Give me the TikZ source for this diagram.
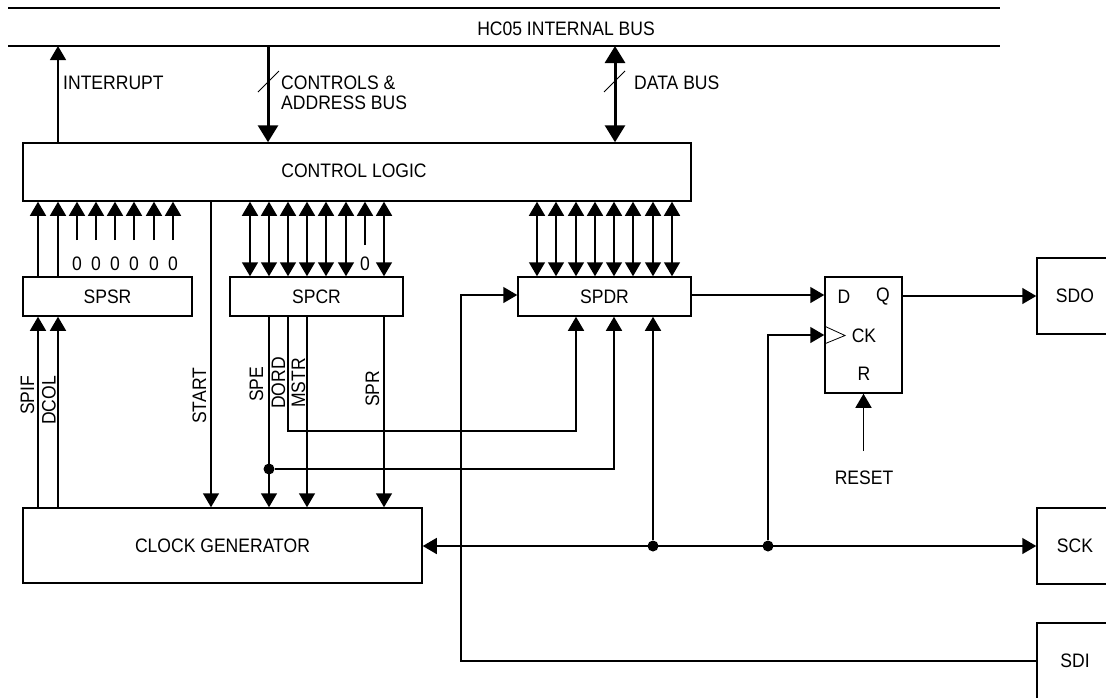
\documentclass[tikz,border=0pt]{standalone}
\usepackage{fontspec}
\setmainfont[FakeStretch=0.9]{Liberation Sans}
\usetikzlibrary{arrows.meta,calc}
\tikzset{
  lbl/.style={inner sep=0pt,font=\fontsize{19.5}{20}\selectfont},
  box/.style={lbl,draw,line width=1.5pt},
  vlbl/.style={lbl,rotate=90,anchor=south west},
  sig/.style={line width=1.5pt,-{Triangle[length=14pt,width=16pt]}},
  sigb/.style={line width=1.5pt,{Triangle[length=14pt,width=16pt]}-{Triangle[length=14pt,width=16pt]}},
  wire/.style={line width=1.5pt},
  fat/.style={line width=3pt},
  dot/.style={circle,fill=black,inner sep=0pt,minimum size=11pt},
}
\begin{document}
\begin{tikzpicture}[x=1pt,y=-1pt]
\clip (0,0) rectangle (1106,697);
% bus
\coordinate (busa) at (8,8);
\coordinate (busb) at (8,46);
\draw[wire] (busa)--++(992,0);
\draw[wire] (busb)--++(992,0);
\node[lbl] (busname) at (566,29) {HC05 INTERNAL BUS};
% blocks
\node[box,minimum width=668pt,minimum height=58pt] (clog) at (357,172) {};
\node[lbl] (clogname) at (354,171) {CONTROL LOGIC};
\node[box,minimum width=169pt,minimum height=39pt] (spsr) at (107.5,296.5) {SPSR};
\node[box,minimum width=173pt,minimum height=39pt] (spcr) at (316.5,296.5) {SPCR};
\node[box,minimum width=173pt,minimum height=39pt] (spdr) at (604.5,296.5) {SPDR};
\node[box,minimum width=399pt,minimum height=75pt] (cgen) at (222.5,545.5) {CLOCK GENERATOR};
\node[box,minimum width=77pt,minimum height=116pt] (ff) at (863.5,335) {};
\node[lbl] (ffd) at (844,297) {D};
\node[lbl] (ffq) at (883,297) {Q};
\node[lbl] (ffck) at (864,336) {CK};
\node[lbl] (ffr) at (864,374) {R};
\draw[line width=.8pt] (ff.west |- 0,326)--(845,335.5)--(ff.west |- 0,344);
\node[box,minimum width=76pt,minimum height=76pt] (sdo) at (1075,296) {SDO};
\node[box,minimum width=76pt,minimum height=76pt] (sck) at (1075,546) {SCK};
\node[box,minimum width=76pt,minimum height=76pt] (sdi) at (1075,661) {SDI};
% internal bus links
\draw[sig] (clog.north -| 58,0)--(busb -| 58,0);
\draw[fat,-{Triangle[length=17pt,width=20pt]}] (busb -| 268,0)--(clog.north -| 268,0);
\draw[fat,{Triangle[length=17pt,width=20pt]}-{Triangle[length=17pt,width=20pt]}] (busb -| 615,0)--(clog.north -| 615,0);
\draw[line width=.8pt] (258,92)--(279,71);
\draw[line width=.8pt] (604,92)--(625,71);
\node[lbl,anchor=west] (intr) at (63,83) {INTERRUPT};
\node[lbl,anchor=west,align=left] (ctrl) at (281,93) {CONTROLS \&\\ADDRESS BUS};
\node[lbl,anchor=west] (dbus) at (634,83) {DATA BUS};
% register bits
\foreach \x in {38,58}
  \draw[sig] (spsr.north -| \x,0)--(clog.south -| \x,0);
\foreach \x in {77,96,115,134,154,173}{
  \node[lbl] (z\x) at (\x,264) {0};
  \draw[sig] (\x,240)--(clog.south -| \x,0);
}
\foreach \x in {250,269,288,307,326,346,384}
  \draw[sigb] (spcr.north -| \x,0)--(clog.south -| \x,0);
\node[lbl] (z365) at (365,264) {0};
\draw[sig] (365,245)--(clog.south -| 365,0);
\foreach \x in {537,556,576,595,614,633,653,672}
  \draw[sigb] (spdr.north -| \x,0)--(clog.south -| \x,0);
% clock generator
\foreach \x in {38,58}
  \draw[sig] (cgen.north -| \x,0)--(spsr.south -| \x,0);
\draw[sig] (clog.south -| 211,0)--(cgen.north -| 211,0);
\foreach \x in {269,307,384}
  \draw[sig] (spcr.south -| \x,0)--(cgen.north -| \x,0);
\draw[sig] (spcr.south -| 288,0)--(288,431)-|(spdr.south -| 576,0);
\node[dot] (spedot) at (269,469) {};
\draw[sig] (spedot)-|(spdr.south -| 614,0);
\node[vlbl] (spif) at (34.5,415) {SPIF};
\node[vlbl] (dcol) at (56,425) {DCOL};
\node[vlbl] (start) at (206.5,424) {START};
\node[vlbl] (spe) at (263.5,402) {SPE};
\node[vlbl] (dord) at (285.5,409) {DORD};
\node[vlbl] (mstr) at (305.5,408) {MSTR};
\node[vlbl] (spr) at (379.5,407) {SPR};
% outputs
\draw[sig] (spdr.east |- 0,295)--(ff.west |- 0,295);
\draw[sig] (ff.east |- 0,296)--(sdo.west |- 0,296);
\node[dot] (ckdot) at (768,546) {};
\node[dot] (spdrdot) at (653,546) {};
\draw[sigb] (cgen.east |- sck)--(sck.west);
\draw[sig] (spdrdot)--(spdr.south -| spdrdot);
\draw[sig] (ckdot)|-(ff.west |- 0,335);
\node[lbl] (rst) at (864,478) {RESET};
\draw[sig] (ff.south |- 0,451)--(ff.south);
\draw[sig] (sdi.west)-|(461,295)--(spdr.west |- 0,295);
\end{tikzpicture}
\end{document}
